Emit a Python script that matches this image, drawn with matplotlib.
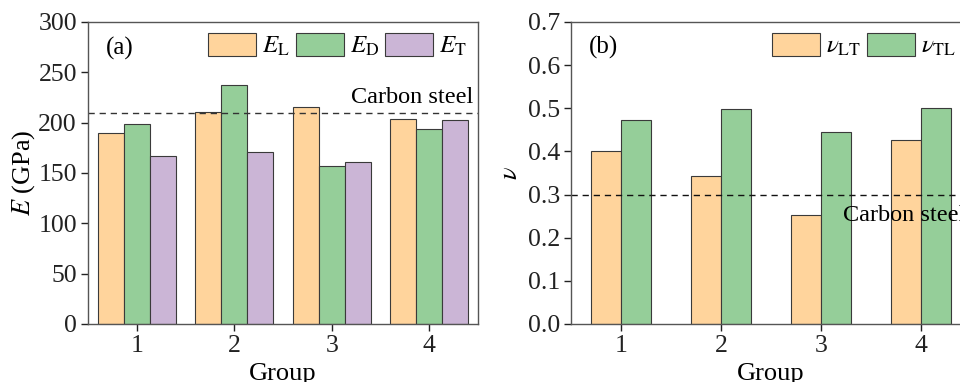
import numpy as np
from matplotlib import pyplot as plt

plt.rcParams['font.family'] = ['Liberation Serif', 'DejaVu Serif']
plt.rcParams['mathtext.fontset'] = 'stix'

groups = [1, 2, 3, 4]
# panel (a): moduli, GPa
E_L = [190, 211, 216, 204]
E_D = [199, 237, 157, 194]
E_T = [167, 171, 161, 203]
E_steel = 210
# panel (b): Poisson ratios
nu_LT = [0.400, 0.342, 0.253, 0.426]
nu_TL = [0.472, 0.498, 0.445, 0.501]
nu_steel = 0.30

c_orange = "#FFD49C"
c_green = "#95CE99"
c_purple = "#CBB5D6"
edge = "#3a3a3a"

fig = plt.figure(figsize=(9.6, 3.82), dpi=100)
ax1 = fig.add_axes([88/960, 58/382, 390/960, 302/382])
ax2 = fig.add_axes([571/960, 58/382, 400/960, 302/382])

x = np.array(groups)

# (a)
w = 0.267
ax1.bar(x - w, E_L, w, color=c_orange, edgecolor=edge, linewidth=0.8, label=r"$E_\mathrm{L}$")
ax1.bar(x, E_D, w, color=c_green, edgecolor=edge, linewidth=0.8, label=r"$E_\mathrm{D}$")
ax1.bar(x + w, E_T, w, color=c_purple, edgecolor=edge, linewidth=0.8, label=r"$E_\mathrm{T}$")
ax1.axhline(E_steel, color="#333333", linestyle=(0, (4.5, 3.5)), linewidth=1)
ax1.text(4.45, 215, "Carbon steel", ha="right", va="bottom", fontsize=17.5)
ax1.text(0.68, 274, "(a)", ha="left", va="center", fontsize=18)
ax1.set_xlim(0.5, 4.5)
ax1.set_ylim(0, 300)
ax1.set_yticks(range(0, 301, 50))
ax1.set_ylabel(r"$E$ (GPa)", fontsize=19, labelpad=1)
ax1.legend(loc="upper right", ncol=3, frameon=False, fontsize=18,
           handlelength=1.9, handleheight=1.0, handletextpad=0.25,
           columnspacing=0.25, borderaxespad=0.3, borderpad=0.15)

# (b)
w2 = 0.3
ax2.bar(x - w2/2, nu_LT, w2, color=c_orange, edgecolor=edge, linewidth=0.8, label=r"$\nu_\mathrm{LT}$")
ax2.bar(x + w2/2, nu_TL, w2, color=c_green, edgecolor=edge, linewidth=0.8, label=r"$\nu_\mathrm{TL}$")
ax2.axhline(nu_steel, color="#111111", linestyle=(0, (4.5, 3.5)), linewidth=1)
ax2.text(3.22, 0.252, "Carbon steel", ha="left", va="center", fontsize=17.5)
ax2.text(0.68, 0.641, "(b)", ha="left", va="center", fontsize=18)
ax2.set_xlim(0.5, 4.5)
ax2.set_ylim(0, 0.7)
ax2.set_yticks(np.arange(0, 0.71, 0.1))
ax2.yaxis.set_major_formatter('{x:.1f}')
ax2.set_ylabel(r"$\nu$", fontsize=19, labelpad=4)
ax2.legend(loc="upper right", ncol=2, frameon=False, fontsize=18,
           handlelength=1.9, handleheight=1.0, handletextpad=0.25,
           columnspacing=0.25, borderaxespad=0.3, borderpad=0.15,
           bbox_to_anchor=(0.99, 1.0))

for ax in (ax1, ax2):
    ax.set_xticks(groups)
    ax.set_xlabel("Group", fontsize=19, labelpad=4)
    ax.tick_params(direction="out", length=5, width=1, labelsize=18.5, colors="#222222",
                   top=False, right=False, pad=3)
    for s in ax.spines.values():
        s.set_color("#555555")
        s.set_linewidth(1)

plt.savefig("out.png", dpi=100)
plt.close()
